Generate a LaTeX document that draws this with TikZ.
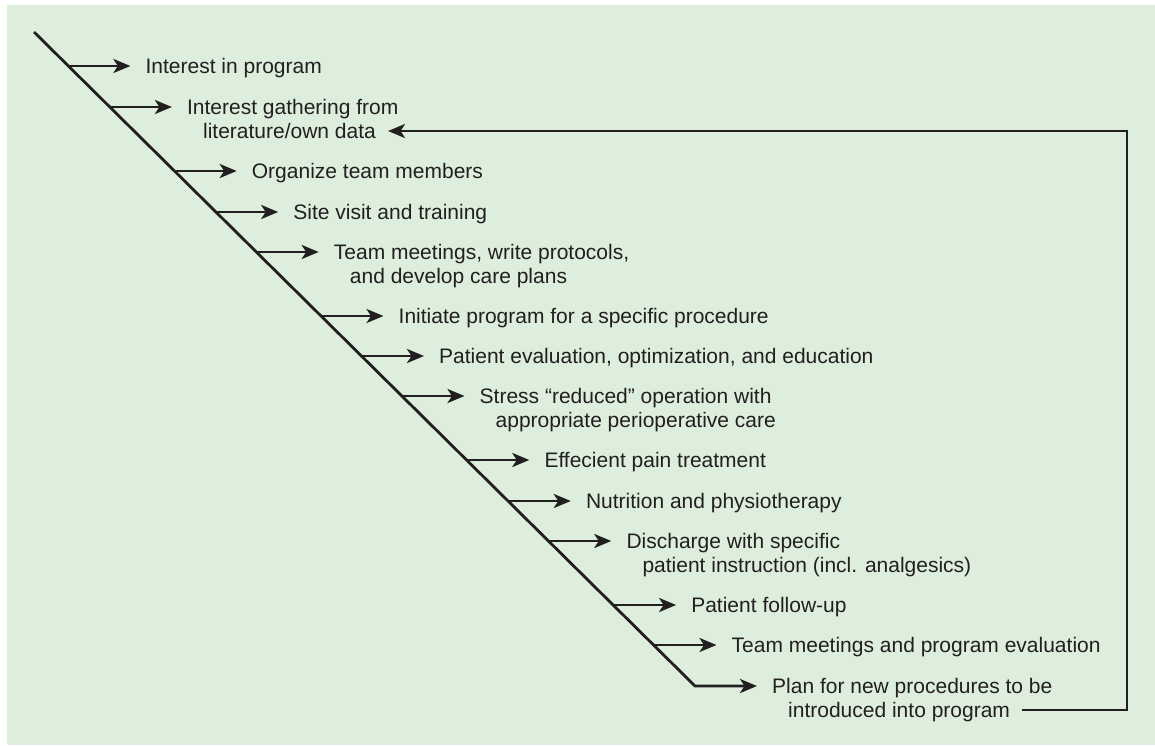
\documentclass[tikz,border=0pt]{standalone}
\usepackage{fontspec}
\setmainfont{Liberation Sans}
\usetikzlibrary{arrows.meta,calc}
\definecolor{panelgreen}{RGB}{221,238,221}
\definecolor{inkdark}{RGB}{35,31,32}

\begin{document}
\begin{tikzpicture}[x=1pt,y=-1pt,
    flow/.style={draw=inkdark,line width=2.8pt,-{Stealth[length=17pt,width=14pt,inset=4.5pt]}},
    steptext/.style={anchor=base west,inner sep=0pt,align=left,text=inkdark,
        font=\fontsize{21}{24}\selectfont}]
    % Panel
    \useasboundingbox (0,0) rectangle (1155,745);
    \fill[panelgreen] (7,5) rectangle (1155,745);

    % Points on the diagonal
    \coordinate (top) at (34,32);
    \coordinate (d1) at (68.4,66);
    \coordinate (d2) at (109.9,107);
    \coordinate (d3) at (174.7,171);
    \coordinate (d4) at (216.2,212);
    \coordinate (d5) at (256.7,252);
    \coordinate (d6) at (321.5,316);
    \coordinate (d7) at (362,356);
    \coordinate (d8) at (402.5,396);
    \coordinate (d9) at (467.3,460);
    \coordinate (d10) at (508.8,501);
    \coordinate (d11) at (549.3,541);
    \coordinate (d12) at (614.1,605);
    \coordinate (d13) at (654.5,645);
    \coordinate (bot) at (695,686);

    % Steps (two-line texts sit on their last line, so 24pt lower)
    \node[steptext] (t1) at ($(d1)+(77,7.5)$) {Interest in program};
    \node[steptext] (t2) at ($(d2)+(77,31.5)$) {Interest gathering from\\\hspace*{16pt}literature/own data};
    \node[steptext] (t3) at ($(d3)+(77,7.5)$) {Organize team members};
    \node[steptext] (t4) at ($(d4)+(77,7.5)$) {Site visit and training};
    \node[steptext] (t5) at ($(d5)+(77,31.5)$) {Team meetings, write protocols,\\\hspace*{16pt}and develop care plans};
    \node[steptext] (t6) at ($(d6)+(77,7.5)$) {Initiate program for a specific procedure};
    \node[steptext] (t7) at ($(d7)+(77,7.5)$) {Patient evaluation, optimization, and education};
    \node[steptext] (t8) at ($(d8)+(77,31.5)$) {Stress “reduced” operation with\\\hspace*{16pt}appropriate perioperative care};
    \node[steptext] (t9) at ($(d9)+(77,7.5)$) {Effecient pain treatment};
    \node[steptext] (t10) at ($(d10)+(77,7.5)$) {Nutrition and physiotherapy};
    \node[steptext] (t11) at ($(d11)+(77,31.5)$) {Discharge with specific\\\hspace*{16pt}patient instruction (incl. analgesics)};
    \node[steptext] (t12) at ($(d12)+(77,7.5)$) {Patient follow-up};
    \node[steptext] (t13) at ($(d13)+(77,7.5)$) {Team meetings and program evaluation};
    \node[steptext] (t14) at ($(bot)+(77,31.5)$) {Plan for new procedures to be\\\hspace*{16pt}introduced into program};

    % Diagonal and arrows
    \draw[flow,shorten >=15pt] (top) -- (bot) -- (bot -| t14.west);
    \draw[flow,shorten >=15pt] (d1) -- (d1 -| t1.west);
    \draw[flow,shorten >=15pt] (d2) -- (d2 -| t2.west);
    \draw[flow,shorten >=15pt] (d3) -- (d3 -| t3.west);
    \draw[flow,shorten >=15pt] (d4) -- (d4 -| t4.west);
    \draw[flow,shorten >=15pt] (d5) -- (d5 -| t5.west);
    \draw[flow,shorten >=15pt] (d6) -- (d6 -| t6.west);
    \draw[flow,shorten >=15pt] (d7) -- (d7 -| t7.west);
    \draw[flow,shorten >=15pt] (d8) -- (d8 -| t8.west);
    \draw[flow,shorten >=15pt] (d9) -- (d9 -| t9.west);
    \draw[flow,shorten >=15pt] (d10) -- (d10 -| t10.west);
    \draw[flow,shorten >=15pt] (d11) -- (d11 -| t11.west);
    \draw[flow,shorten >=15pt] (d12) -- (d12 -| t12.west);
    \draw[flow,shorten >=15pt] (d13) -- (d13 -| t13.west);

    % Feedback loop
    \coordinate (loopfrom) at (1022,710);
    \coordinate (loopright) at (1127,131);
    \coordinate (loopto) at (388,131);
    \draw[flow] (loopfrom) -| (loopright) -- (loopto);
\end{tikzpicture}
\end{document}
